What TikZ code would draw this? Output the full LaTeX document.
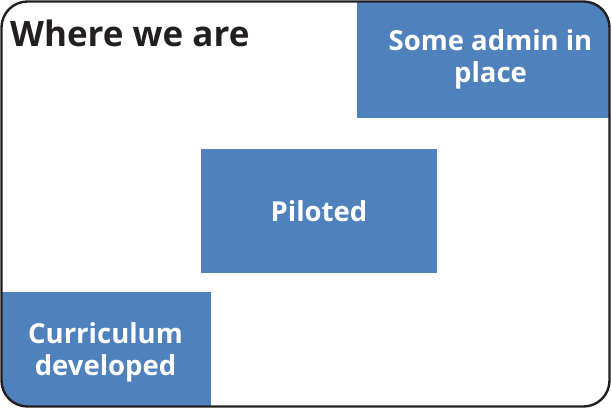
\documentclass[tikz,border=0pt]{standalone}
\usepackage{fontspec}
\setmainfont{Open Sans}
\definecolor{stageblue}{RGB}{79,129,189}
\definecolor{framegray}{RGB}{35,31,32}

\begin{document}
\begin{tikzpicture}[x=1pt,y=-1pt,
    stage/.style={fill=stageblue, text=white, align=center, inner sep=0pt,
      font=\bfseries\fontsize{27.5}{32}\selectfont}]
  \useasboundingbox (0,0) rectangle (612,416);
  %The boxes, cut off by the frame:
  \begin{scope}
    \clip[rounded corners=26pt] (1.5,1.5) rectangle (609.5,406.5);
    \node[stage, minimum width=267pt, minimum height=118pt] (admin) at (490.5,59) {Some admin in\\place};
    \node[stage, minimum width=236pt, minimum height=124pt] (piloted) at (319,211) {Piloted};
    \node[stage, minimum width=211pt, minimum height=121pt] (curriculum) at (105.5,352.5) {Curriculum\\developed};
  \end{scope}
  %The frame and its title:
  \draw[framegray, line width=2.4pt, rounded corners=26pt] (1.5,1.5) rectangle (609.5,406.5);
  \node[anchor=base west, inner sep=0pt, text=framegray,
    font=\bfseries\fontsize{35}{40}\selectfont] (title) at (10,46) {Where we are};
\end{tikzpicture}
\end{document}
